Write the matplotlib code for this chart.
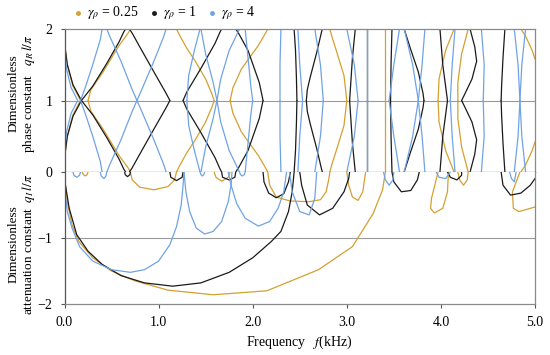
import matplotlib
matplotlib.use('Agg')
import matplotlib.pyplot as plt
from matplotlib.lines import Line2D

plt.rcParams['font.family'] = ['Liberation Serif', 'DejaVu Serif']
plt.rcParams['mathtext.fontset'] = 'stix'

# ---------------- data ----------------
labels = [r'$\gamma_\rho$ = 0.25', r'$\gamma_\rho$ = 1', r'$\gamma_\rho$ = 4']
colors = ['#D4A030', '#1A1A1A', '#6FA3E6']
x_ticks = [0, 1, 2, 3, 4, 5]
x_ticklabels = ['0.0', '1.0', '2.0', '3.0', '4.0', '5.0']

# phase constant branches (q_R l / pi in [0,1]); the chart also shows 2 - q
phase_orange = [
    [(0, 0), (0.005, 0.25), (0.03, 0.5), (0.09, 0.8), (0.17, 1)],
    [(0.25, 1), (0.28, 0.85), (0.41, 0.6), (0.58, 0.23), (0.68, 0.05), (0.70, 0)],
    [(1.19, 0), (1.22, 0.08), (1.30, 0.27), (1.39, 0.45), (1.50, 0.70), (1.57, 0.92), (1.59, 1)],
    [(1.76, 1), (1.79, 0.82), (1.88, 0.56), (2.06, 0.23), (2.14, 0.05), (2.16, 0)],
    [(2.82, 0), (2.84, 0.1), (2.90, 0.35), (2.97, 0.65), (3.0, 1)],
    [(3.41, 0), (3.41, 1)],
    [(4.14, 0), (4.05, 0.3), (3.98, 0.7), (3.97, 1)],
    [(4.29, 0), (4.22, 0.35), (4.18, 0.75), (4.18, 1)],
    [(4.85, 0), (4.90, 0.1), (4.97, 0.3), (5.0, 0.42)],
]
phase_black = [
    [(0, 0), (0.005, 0.25), (0.03, 0.5), (0.09, 0.78), (0.18, 1)],
    [(0.18, 1), (0.30, 0.8), (0.45, 0.48), (0.58, 0.18), (0.63, 0.04), (0.65, 0)],
    [(0.69, 0), (0.72, 0.06), (0.80, 0.25), (0.95, 0.6), (1.08, 0.9), (1.12, 1)],
    [(1.26, 1), (1.30, 0.88), (1.45, 0.55), (1.60, 0.2), (1.65, 0.05), (1.67, 0)],
    [(1.82, 0), (1.85, 0.06), (1.95, 0.3), (2.07, 0.75), (2.11, 1)],
    [(2.44, 0), (2.455, 0.3), (2.465, 0.7), (2.47, 1)],
    [(2.57, 1), (2.58, 0.85), (2.61, 0.68), (2.68, 0.33), (2.73, 0.05), (2.74, 0)],
    [(3.09, 0), (3.06, 0.4), (3.04, 0.8), (3.03, 1)],
    [(3.215, 0), (3.215, 1)],
    [(3.48, 0), (3.47, 0.5), (3.465, 1)],
    [(3.61, 0), (3.67, 0.25), (3.76, 0.6), (3.81, 0.9), (3.82, 1)],
    [(3.99, 0), (4.02, 0.5), (4.06, 0.9), (4.07, 1)],
    [(4.31, 0), (4.36, 0.25), (4.38, 0.45), (4.33, 0.7), (4.25, 0.92), (4.22, 1)],
    [(4.68, 0), (4.66, 0.4), (4.645, 0.8), (4.64, 1)],
]
phase_blue = [
    [(0, 0), (0.003, 0.3), (0.02, 0.55), (0.07, 0.82), (0.14, 1)],
    [(0.17, 1), (0.22, 0.82), (0.30, 0.5), (0.38, 0.15), (0.40, 0)],
    [(0.45, 0), (0.48, 0.1), (0.60, 0.45), (0.72, 0.85), (0.77, 1)],
    [(0.77, 1), (0.82, 0.85), (0.95, 0.45), (1.05, 0.12), (1.08, 0)],
    [(1.44, 0), (1.38, 0.3), (1.32, 0.65), (1.30, 1)],
    [(1.45, 0), (1.50, 0.35), (1.58, 0.75), (1.62, 1)],
    [(1.62, 1), (1.66, 0.7), (1.75, 0.3), (1.86, 0)],
    [(1.92, 0), (1.95, 0.4), (1.98, 0.8), (2.0, 1)],
    [(2.30, 0), (2.29, 0.5), (2.29, 1)],
    [(2.48, 0), (2.50, 0.5), (2.53, 1)],
    [(2.66, 0), (2.72, 0.5), (2.75, 1)],
    [(3.0, 0), (3.08, 0.5), (3.12, 1)],
    [(3.21, 0), (3.21, 1)],
    [(3.56, 0), (3.50, 0.5), (3.45, 1)],
    [(3.61, 0), (3.70, 0.5), (3.76, 1)],
    [(3.83, 0), (3.80, 0.5), (3.76, 1)],
    [(4.15, 0), (4.12, 0.5), (4.10, 1)],
    [(4.43, 0), (4.46, 0.5), (4.45, 1)],
    [(4.78, 0), (4.82, 0.5), (4.84, 1)],
    [(4.90, 0), (4.86, 0.5), (4.84, 1)],
]

# attenuation constant branches (-q_I l / pi)
atten_orange = [
    [(0, 0), (0.01, -0.2), (0.03, -0.45), (0.08, -0.8), (0.15, -1.05), (0.3, -1.3), (0.5, -1.5),
     (0.75, -1.65), (1.1, -1.79), (1.58, -1.86), (2.15, -1.8), (2.7, -1.48), (3.06, -1.13),
     (3.28, -0.63), (3.38, -0.27), (3.41, 0)],
    [(0.19, 0), (0.20, -0.04), (0.22, -0.06), (0.24, -0.04), (0.25, 0)],
    [(0.70, 0), (0.72, -0.12), (0.80, -0.23), (0.95, -0.27), (1.10, -0.22), (1.17, -0.12), (1.19, 0)],
    [(1.59, 0), (1.61, -0.08), (1.67, -0.14), (1.74, -0.08), (1.76, 0)],
    [(2.16, 0), (2.18, -0.2), (2.25, -0.38), (2.4, -0.44), (2.6, -0.45), (2.72, -0.42),
     (2.78, -0.3), (2.81, -0.1), (2.82, 0)],
    [(3.0, 0), (3.02, -0.2), (3.06, -0.38), (3.12, -0.43), (3.17, -0.3), (3.19, -0.1), (3.2, 0)],
    [(4.08, 0), (4.07, -0.3), (4.02, -0.55), (3.93, -0.62), (3.89, -0.55), (3.90, -0.4), (3.97, 0)],
    [(4.18, 0), (4.20, -0.12), (4.24, -0.2), (4.28, -0.12), (4.29, 0)],
    [(4.84, 0), (4.76, -0.3), (4.77, -0.55), (4.83, -0.6), (5.0, -0.53)],
]
atten_black = [
    [(0, 0), (0.01, -0.2), (0.05, -0.55), (0.13, -0.95), (0.25, -1.2), (0.4, -1.4), (0.6, -1.57),
     (0.85, -1.68), (1.15, -1.73), (1.45, -1.68), (1.75, -1.52), (2.0, -1.3), (2.2, -1.05),
     (2.3, -0.9), (2.38, -0.6), (2.42, -0.3), (2.44, 0)],
    [(0.64, 0), (0.645, -0.04), (0.67, -0.07), (0.695, -0.04), (0.70, 0)],
    [(1.12, 0), (1.13, -0.08), (1.19, -0.13), (1.25, -0.08), (1.26, 0)],
    [(1.67, 0), (1.68, -0.08), (1.75, -0.12), (1.81, -0.08), (1.82, 0)],
    [(2.11, 0), (2.12, -0.15), (2.17, -0.32), (2.25, -0.39), (2.33, -0.33), (2.38, -0.15), (2.40, 0)],
    [(2.50, 0), (2.52, -0.2), (2.58, -0.5), (2.71, -0.65), (2.85, -0.55), (2.97, -0.3), (3.02, -0.1), (3.03, 0)],
    [(3.48, 0), (3.50, -0.15), (3.58, -0.3), (3.68, -0.28), (3.75, -0.12), (3.77, 0)],
    [(4.07, 0), (4.10, -0.08), (4.17, -0.12), (4.22, -0.05), (4.22, 0)],
    [(4.64, 0), (4.66, -0.2), (4.74, -0.35), (4.85, -0.32), (4.95, -0.2), (5.0, -0.1)],
]
atten_blue = [
    [(0, 0), (0.005, -0.3), (0.03, -0.6), (0.08, -0.85), (0.16, -1.13), (0.3, -1.35), (0.5, -1.48),
     (0.7, -1.52), (0.85, -1.48), (1.0, -1.35), (1.12, -1.1), (1.19, -0.83), (1.24, -0.5),
     (1.26, -0.2), (1.27, 0)],
    [(1.27, 0), (1.29, -0.3), (1.33, -0.6), (1.40, -0.85), (1.49, -0.94), (1.58, -0.9),
     (1.67, -0.75), (1.74, -0.45), (1.77, -0.2), (1.78, 0)],
    [(1.74, 0), (1.77, -0.2), (1.83, -0.48), (1.92, -0.7), (2.06, -0.82), (2.18, -0.75),
     (2.27, -0.55), (2.33, -0.3), (2.36, 0)],
    [(0.09, 0), (0.10, -0.05), (0.13, -0.08), (0.16, -0.05), (0.17, 0)],
    [(0.38, 0), (0.39, -0.06), (0.42, -0.1), (0.44, -0.06), (0.45, 0)],
    [(1.44, 0), (1.45, -0.04), (1.465, -0.06), (1.48, -0.04), (1.49, 0)],
    [(1.86, 0), (1.87, -0.04), (1.89, -0.06), (1.91, -0.04), (1.92, 0)],
    [(2.39, 0), (2.42, -0.3), (2.5, -0.6), (2.6, -0.65), (2.66, -0.4), (2.68, 0)],
    [(3.39, 0), (3.41, -0.12), (3.45, -0.2), (3.49, -0.12), (3.5, 0)],
    [(3.95, 0), (3.98, -0.08), (4.05, -0.1), (4.10, 0)],
    [(4.73, 0), (4.75, -0.1), (4.78, -0.15), (4.80, 0)],
]

phase_all = [phase_orange, phase_black, phase_blue]
atten_all = [atten_orange, atten_black, atten_blue]

# ---------------- figure ----------------
fig = plt.figure(figsize=(5.5, 3.55), dpi=100)
L, R = 64.5 / 550, 535 / 550
ax_top = fig.add_axes([L, 1 - 172 / 355, R - L, (172 - 29) / 355])
ax_bot = fig.add_axes([L, 1 - 304 / 355, R - L, (304 - 172) / 355], sharex=ax_top)

lw = 0.9
for branches, c in zip(phase_all, colors):
    for br in branches:
        f = [p[0] for p in br]
        q = [p[1] for p in br]
        ax_top.plot(f, q, color=c, lw=lw, solid_capstyle='round')
        ax_top.plot(f, [2 - v for v in q], color=c, lw=lw, solid_capstyle='round')
for branches, c in zip(atten_all, colors):
    for br in branches:
        ax_bot.plot([p[0] for p in br], [p[1] for p in br], color=c, lw=lw)

ax_top.set_ylim(0, 2)
ax_bot.set_ylim(-2, 0)
ax_top.set_xlim(0, 5)
ax_top.set_yticks([0, 1, 2])
ax_bot.set_yticks([-2, -1])
ax_top.axhline(1, color='#9A9A9A', lw=0.8, zorder=0)
ax_bot.axhline(-1, color='#9A9A9A', lw=0.8, zorder=0)

for ax in (ax_top, ax_bot):
    for s in ax.spines.values():
        s.set_color('#8A8A8A')
        s.set_linewidth(0.9)
    ax.spines['left'].set_color('#555555')
    ax.tick_params(axis='y', direction='out', length=3, width=0.8, color='#555555',
                   labelsize=10, pad=5.5)
    ax.tick_params(axis='x', direction='out', length=3, width=0.8, color='#555555',
                   labelsize=10, pad=6)
ax_top.spines['bottom'].set_color('#555555')
ax_top.tick_params(axis='x', bottom=False, labelbottom=False)
ax_bot.spines['top'].set_visible(False)
ax_bot.set_xticks(x_ticks)
ax_bot.set_xticklabels(x_ticklabels)

ax_top.set_ylabel('Dimensionless\n' + r'phase constant   $q_R\,l/\pi$', fontsize=9.5,
                  linespacing=1.05)
ax_bot.set_ylabel('Dimensionless\n' + r'attenuation constant  $q_I\,l/\pi$', fontsize=9.5,
                  linespacing=1.05)
ax_top.yaxis.set_label_coords(-(64.5 - 37) / 471, 0.55)
ax_bot.yaxis.set_label_coords(-(64.5 - 37) / 471, 0.45)
ax_bot.set_xlabel(r'Frequency   $f$(kHz)', fontsize=10, labelpad=3)

# legend: dot + label, placed as in the picture
dot_x = [78, 154, 212]
text_x = [87, 163, 221]
for dx, tx, c, lab in zip(dot_x, text_x, colors, labels):
    fig.add_artist(Line2D([dx / 550], [1 - 13 / 355], transform=fig.transFigure,
                          ls='none', marker='o', ms=2.5, color=c))
    fig.text(tx / 550, 1 - 13 / 355, lab, fontsize=10, ha='left', va='center')

fig.savefig('out.png', dpi=100)
